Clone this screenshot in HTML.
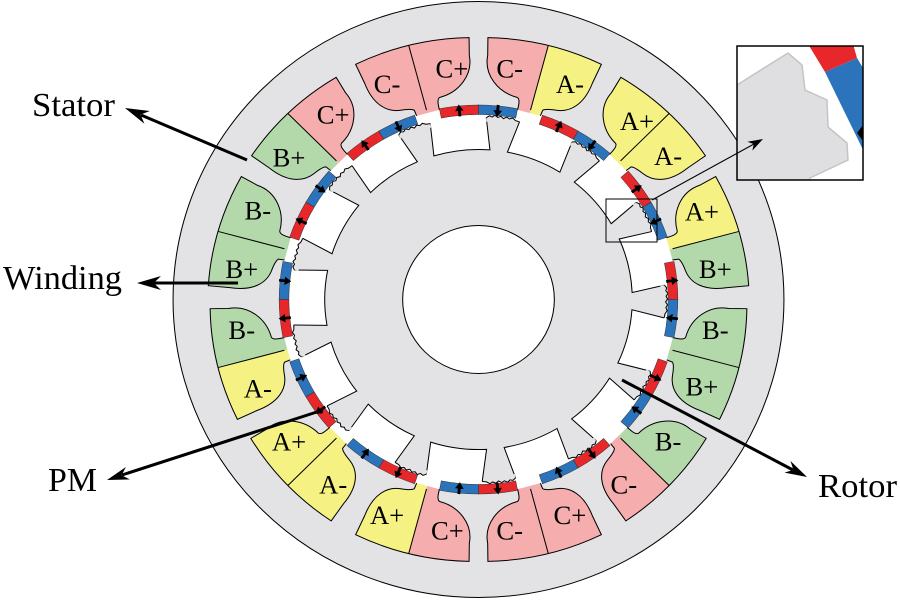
<!DOCTYPE html>
<html><head><meta charset="utf-8"><style>
html,body{margin:0;padding:0;background:#fff;}
svg{display:block;}
.o{fill:none;stroke:#000;stroke-width:1;}
.t{font-family:"Liberation Serif",serif;font-size:26px;text-anchor:middle;fill:#000;}
.L{font-family:"Liberation Serif",serif;font-size:34px;fill:#000;}
</style></head><body>
<svg width="900" height="600" viewBox="0 0 900 600" xmlns="http://www.w3.org/2000/svg">
<defs>
<clipPath id="cl" clipPathUnits="userSpaceOnUse"><rect x="-90" y="-290" width="90" height="110"/></clipPath>
<clipPath id="cr" clipPathUnits="userSpaceOnUse"><rect x="0" y="-290" width="90" height="110"/></clipPath>
<clipPath id="ib"><rect x="737" y="46" width="126" height="134"/></clipPath>
</defs>
<rect width="900" height="600" fill="#fff"/>
<g transform="translate(478.5,299.5) scale(1.025,1)">
<circle r="298" fill="#e3e3e5" stroke="#000" stroke-width="1"/>
<circle r="194.5" fill="#fff"/>

<!-- slots -->
<g transform="rotate(15)"><path d="M-12.2,-193 L-12.5,-198 Q-13,-204.5 -16,-205 C-35,-205 -53,-218 -54.5,-238 L-58.9,-255.3 A263,263 0 0 1 54.9,-258.2 L51.3,-237.5 C49,-215 38,-204 24.5,-202.5 Q14,-201.5 11.5,-199 L10.8,-193" fill="#f5adad" clip-path="url(#cl)"/><path d="M-12.2,-193 L-12.5,-198 Q-13,-204.5 -16,-205 C-35,-205 -53,-218 -54.5,-238 L-58.9,-255.3 A263,263 0 0 1 54.9,-258.2 L51.3,-237.5 C49,-215 38,-204 24.5,-202.5 Q14,-201.5 11.5,-199 L10.8,-193" fill="#f5f283" clip-path="url(#cr)"/><path class="o" d="M-12.2,-193 L-12.5,-198 Q-13,-204.5 -16,-205 C-35,-205 -53,-218 -54.5,-238 L-58.9,-255.3 A263,263 0 0 1 54.9,-258.2 L51.3,-237.5 C49,-215 38,-204 24.5,-202.5 Q14,-201.5 11.5,-199 L10.8,-193"/><path class="o" d="M0,-196 V-263"/></g>

<g transform="rotate(45)"><path d="M-12.2,-193 L-12.5,-198 Q-13,-204.5 -16,-205 C-35,-205 -53,-218 -54.5,-238 L-58.9,-255.3 A263,263 0 0 1 54.9,-258.2 L51.3,-237.5 C49,-215 38,-204 24.5,-202.5 Q14,-201.5 11.5,-199 L10.8,-193" fill="#f5f283"/><path class="o" d="M-12.2,-193 L-12.5,-198 Q-13,-204.5 -16,-205 C-35,-205 -53,-218 -54.5,-238 L-58.9,-255.3 A263,263 0 0 1 54.9,-258.2 L51.3,-237.5 C49,-215 38,-204 24.5,-202.5 Q14,-201.5 11.5,-199 L10.8,-193"/><path class="o" d="M0,-196 V-263"/></g>

<g transform="rotate(75)"><path d="M-12.2,-193 L-12.5,-198 Q-13,-204.5 -16,-205 C-35,-205 -53,-218 -54.5,-238 L-58.9,-255.3 A263,263 0 0 1 54.9,-258.2 L51.3,-237.5 C49,-215 38,-204 24.5,-202.5 Q14,-201.5 11.5,-199 L10.8,-193" fill="#f5f283" clip-path="url(#cl)"/><path d="M-12.2,-193 L-12.5,-198 Q-13,-204.5 -16,-205 C-35,-205 -53,-218 -54.5,-238 L-58.9,-255.3 A263,263 0 0 1 54.9,-258.2 L51.3,-237.5 C49,-215 38,-204 24.5,-202.5 Q14,-201.5 11.5,-199 L10.8,-193" fill="#b3d9aa" clip-path="url(#cr)"/><path class="o" d="M-12.2,-193 L-12.5,-198 Q-13,-204.5 -16,-205 C-35,-205 -53,-218 -54.5,-238 L-58.9,-255.3 A263,263 0 0 1 54.9,-258.2 L51.3,-237.5 C49,-215 38,-204 24.5,-202.5 Q14,-201.5 11.5,-199 L10.8,-193"/><path class="o" d="M0,-196 V-263"/></g>

<g transform="rotate(105)"><path d="M-12.2,-193 L-12.5,-198 Q-13,-204.5 -16,-205 C-35,-205 -53,-218 -54.5,-238 L-58.9,-255.3 A263,263 0 0 1 54.9,-258.2 L51.3,-237.5 C49,-215 38,-204 24.5,-202.5 Q14,-201.5 11.5,-199 L10.8,-193" fill="#b3d9aa"/><path class="o" d="M-12.2,-193 L-12.5,-198 Q-13,-204.5 -16,-205 C-35,-205 -53,-218 -54.5,-238 L-58.9,-255.3 A263,263 0 0 1 54.9,-258.2 L51.3,-237.5 C49,-215 38,-204 24.5,-202.5 Q14,-201.5 11.5,-199 L10.8,-193"/><path class="o" d="M0,-196 V-263"/></g>

<g transform="rotate(135)"><path d="M-12.2,-193 L-12.5,-198 Q-13,-204.5 -16,-205 C-35,-205 -53,-218 -54.5,-238 L-58.9,-255.3 A263,263 0 0 1 54.9,-258.2 L51.3,-237.5 C49,-215 38,-204 24.5,-202.5 Q14,-201.5 11.5,-199 L10.8,-193" fill="#b3d9aa" clip-path="url(#cl)"/><path d="M-12.2,-193 L-12.5,-198 Q-13,-204.5 -16,-205 C-35,-205 -53,-218 -54.5,-238 L-58.9,-255.3 A263,263 0 0 1 54.9,-258.2 L51.3,-237.5 C49,-215 38,-204 24.5,-202.5 Q14,-201.5 11.5,-199 L10.8,-193" fill="#f5adad" clip-path="url(#cr)"/><path class="o" d="M-12.2,-193 L-12.5,-198 Q-13,-204.5 -16,-205 C-35,-205 -53,-218 -54.5,-238 L-58.9,-255.3 A263,263 0 0 1 54.9,-258.2 L51.3,-237.5 C49,-215 38,-204 24.5,-202.5 Q14,-201.5 11.5,-199 L10.8,-193"/><path class="o" d="M0,-196 V-263"/></g>

<g transform="rotate(165) scale(-1,1)"><path d="M-12.2,-193 L-12.5,-198 Q-13,-204.5 -16,-205 C-35,-205 -53,-218 -54.5,-238 L-58.9,-255.3 A263,263 0 0 1 54.9,-258.2 L51.3,-237.5 C49,-215 38,-204 24.5,-202.5 Q14,-201.5 11.5,-199 L10.8,-193" fill="#f5adad"/><path class="o" d="M-12.2,-193 L-12.5,-198 Q-13,-204.5 -16,-205 C-35,-205 -53,-218 -54.5,-238 L-58.9,-255.3 A263,263 0 0 1 54.9,-258.2 L51.3,-237.5 C49,-215 38,-204 24.5,-202.5 Q14,-201.5 11.5,-199 L10.8,-193"/><path class="o" d="M0,-196 V-263"/></g>

<g transform="rotate(195)"><path d="M-12.2,-193 L-12.5,-198 Q-13,-204.5 -16,-205 C-35,-205 -53,-218 -54.5,-238 L-58.9,-255.3 A263,263 0 0 1 54.9,-258.2 L51.3,-237.5 C49,-215 38,-204 24.5,-202.5 Q14,-201.5 11.5,-199 L10.8,-193" fill="#f5adad" clip-path="url(#cl)"/><path d="M-12.2,-193 L-12.5,-198 Q-13,-204.5 -16,-205 C-35,-205 -53,-218 -54.5,-238 L-58.9,-255.3 A263,263 0 0 1 54.9,-258.2 L51.3,-237.5 C49,-215 38,-204 24.5,-202.5 Q14,-201.5 11.5,-199 L10.8,-193" fill="#f5f283" clip-path="url(#cr)"/><path class="o" d="M-12.2,-193 L-12.5,-198 Q-13,-204.5 -16,-205 C-35,-205 -53,-218 -54.5,-238 L-58.9,-255.3 A263,263 0 0 1 54.9,-258.2 L51.3,-237.5 C49,-215 38,-204 24.5,-202.5 Q14,-201.5 11.5,-199 L10.8,-193"/><path class="o" d="M0,-196 V-263"/></g>

<g transform="rotate(225) scale(-1,1)"><path d="M-12.2,-193 L-12.5,-198 Q-13,-204.5 -16,-205 C-35,-205 -53,-218 -54.5,-238 L-58.9,-255.3 A263,263 0 0 1 54.9,-258.2 L51.3,-237.5 C49,-215 38,-204 24.5,-202.5 Q14,-201.5 11.5,-199 L10.8,-193" fill="#f5f283"/><path class="o" d="M-12.2,-193 L-12.5,-198 Q-13,-204.5 -16,-205 C-35,-205 -53,-218 -54.5,-238 L-58.9,-255.3 A263,263 0 0 1 54.9,-258.2 L51.3,-237.5 C49,-215 38,-204 24.5,-202.5 Q14,-201.5 11.5,-199 L10.8,-193"/><path class="o" d="M0,-196 V-263"/></g>

<g transform="rotate(255) scale(-1,1)"><path d="M-12.2,-193 L-12.5,-198 Q-13,-204.5 -16,-205 C-35,-205 -53,-218 -54.5,-238 L-58.9,-255.3 A263,263 0 0 1 54.9,-258.2 L51.3,-237.5 C49,-215 38,-204 24.5,-202.5 Q14,-201.5 11.5,-199 L10.8,-193" fill="#b3d9aa" clip-path="url(#cl)"/><path d="M-12.2,-193 L-12.5,-198 Q-13,-204.5 -16,-205 C-35,-205 -53,-218 -54.5,-238 L-58.9,-255.3 A263,263 0 0 1 54.9,-258.2 L51.3,-237.5 C49,-215 38,-204 24.5,-202.5 Q14,-201.5 11.5,-199 L10.8,-193" fill="#f5f283" clip-path="url(#cr)"/><path class="o" d="M-12.2,-193 L-12.5,-198 Q-13,-204.5 -16,-205 C-35,-205 -53,-218 -54.5,-238 L-58.9,-255.3 A263,263 0 0 1 54.9,-258.2 L51.3,-237.5 C49,-215 38,-204 24.5,-202.5 Q14,-201.5 11.5,-199 L10.8,-193"/><path class="o" d="M0,-196 V-263"/></g>

<g transform="rotate(285) scale(-1,1)"><path d="M-12.2,-193 L-12.5,-198 Q-13,-204.5 -16,-205 C-35,-205 -53,-218 -54.5,-238 L-58.9,-255.3 A263,263 0 0 1 54.9,-258.2 L51.3,-237.5 C49,-215 38,-204 24.5,-202.5 Q14,-201.5 11.5,-199 L10.8,-193" fill="#b3d9aa"/><path class="o" d="M-12.2,-193 L-12.5,-198 Q-13,-204.5 -16,-205 C-35,-205 -53,-218 -54.5,-238 L-58.9,-255.3 A263,263 0 0 1 54.9,-258.2 L51.3,-237.5 C49,-215 38,-204 24.5,-202.5 Q14,-201.5 11.5,-199 L10.8,-193"/><path class="o" d="M0,-196 V-263"/></g>

<g transform="rotate(315) scale(-1,1)"><path d="M-12.2,-193 L-12.5,-198 Q-13,-204.5 -16,-205 C-35,-205 -53,-218 -54.5,-238 L-58.9,-255.3 A263,263 0 0 1 54.9,-258.2 L51.3,-237.5 C49,-215 38,-204 24.5,-202.5 Q14,-201.5 11.5,-199 L10.8,-193" fill="#f5adad" clip-path="url(#cl)"/><path d="M-12.2,-193 L-12.5,-198 Q-13,-204.5 -16,-205 C-35,-205 -53,-218 -54.5,-238 L-58.9,-255.3 A263,263 0 0 1 54.9,-258.2 L51.3,-237.5 C49,-215 38,-204 24.5,-202.5 Q14,-201.5 11.5,-199 L10.8,-193" fill="#b3d9aa" clip-path="url(#cr)"/><path class="o" d="M-12.2,-193 L-12.5,-198 Q-13,-204.5 -16,-205 C-35,-205 -53,-218 -54.5,-238 L-58.9,-255.3 A263,263 0 0 1 54.9,-258.2 L51.3,-237.5 C49,-215 38,-204 24.5,-202.5 Q14,-201.5 11.5,-199 L10.8,-193"/><path class="o" d="M0,-196 V-263"/></g>

<g transform="rotate(345) scale(-1,1)"><path d="M-12.2,-193 L-12.5,-198 Q-13,-204.5 -16,-205 C-35,-205 -53,-218 -54.5,-238 L-58.9,-255.3 A263,263 0 0 1 54.9,-258.2 L51.3,-237.5 C49,-215 38,-204 24.5,-202.5 Q14,-201.5 11.5,-199 L10.8,-193" fill="#f5adad"/><path class="o" d="M-12.2,-193 L-12.5,-198 Q-13,-204.5 -16,-205 C-35,-205 -53,-218 -54.5,-238 L-58.9,-255.3 A263,263 0 0 1 54.9,-258.2 L51.3,-237.5 C49,-215 38,-204 24.5,-202.5 Q14,-201.5 11.5,-199 L10.8,-193"/><path class="o" d="M0,-196 V-263"/></g>

<!-- slot labels -->
<text class="t" x="30.4" y="-222">C-</text>
<text class="t" x="89.2" y="-206.3">A-</text>
<text class="t" x="154.6" y="-169.5">A+</text>
<text class="t" x="184.9" y="-134.5">A-</text>
<text class="t" x="218" y="-79">A+</text>
<text class="t" x="231" y="-21.4">B+</text>
<text class="t" x="231" y="39.4">B-</text>
<text class="t" x="218" y="96">B+</text>
<text class="t" x="184.9" y="150.8">B-</text>
<text class="t" x="141.8" y="193.9">C-</text>
<text class="t" x="89.2" y="224.3">C+</text>
<text class="t" x="30.4" y="240">C-</text>
<text class="t" x="-30.4" y="240">C+</text>
<text class="t" x="-89.2" y="224.3">A+</text>
<text class="t" x="-141.8" y="193.9">A-</text>
<text class="t" x="-184.9" y="150.8">A+</text>
<text class="t" x="-215.3" y="98.2">A-</text>
<text class="t" x="-231" y="39.4">B-</text>
<text class="t" x="-231" y="-21.4">B+</text>
<text class="t" x="-215.3" y="-80.2">B-</text>
<text class="t" x="-184.9" y="-132.8">B+</text>
<text class="t" x="-141.8" y="-175.9">C+</text>
<text class="t" x="-89.2" y="-206.3">C-</text>
<text class="t" x="-26" y="-222">C+</text>

<!-- rotor -->
<circle r="180" fill="#e3e3e5"/>
<g>
<g transform="rotate(-6.3)"><path d="M-27.5,-180 L-27.5,-147.5 A150,150 0 0 1 27.5,-147.5 L27.5,-180" fill="#fff" stroke="#000" stroke-width="1"/><path d="M27.5,-179.9 L30.7,-181.4 L33.3,-179.9 L36.2,-181.4 L38.7,-178.9 L41.8,-179.7 L44.1,-177.1 L47.4,-178.3 L49.8,-176.1 L53,-176.7 L55.5,-173.9 L59.3,-172.1 L58,-168.3 L26.9,-176 Z" fill="#e3e3e5"/><path class="o" stroke-width="0.8" d="M27.5,-179.9 L30.7,-181.4 L33.3,-179.9 L36.2,-181.4 L38.7,-178.9 L41.8,-179.7 L44.1,-177.1 L47.4,-178.3 L49.8,-176.1 L53,-176.7 L55.5,-173.9 L59.3,-172.1"/></g>
<g transform="rotate(21.39)"><path d="M-27.5,-180 L-27.5,-147.5 A150,150 0 0 1 27.5,-147.5 L27.5,-180" fill="#fff" stroke="#000" stroke-width="1"/><path d="M27.5,-179.9 L30.7,-181.4 L33.3,-179.9 L36.2,-181.4 L38.7,-178.9 L41.8,-179.7 L44.1,-177.1 L47.4,-178.3 L49.8,-176.1 L53,-176.7 L55.5,-173.9 L59.3,-172.1 L58,-168.3 L26.9,-176 Z" fill="#e3e3e5"/><path class="o" stroke-width="0.8" d="M27.5,-179.9 L30.7,-181.4 L33.3,-179.9 L36.2,-181.4 L38.7,-178.9 L41.8,-179.7 L44.1,-177.1 L47.4,-178.3 L49.8,-176.1 L53,-176.7 L55.5,-173.9 L59.3,-172.1"/></g>
<g transform="rotate(49.08)"><path d="M-27.5,-180 L-27.5,-147.5 A150,150 0 0 1 27.5,-147.5 L27.5,-180" fill="#fff" stroke="#000" stroke-width="1"/><path d="M27.5,-179.9 L30.7,-181.4 L33.3,-179.9 L36.2,-181.4 L38.7,-178.9 L41.8,-179.7 L44.1,-177.1 L47.4,-178.3 L49.8,-176.1 L53,-176.7 L55.5,-173.9 L59.3,-172.1 L58,-168.3 L26.9,-176 Z" fill="#e3e3e5"/><path class="o" stroke-width="0.8" d="M27.5,-179.9 L30.7,-181.4 L33.3,-179.9 L36.2,-181.4 L38.7,-178.9 L41.8,-179.7 L44.1,-177.1 L47.4,-178.3 L49.8,-176.1 L53,-176.7 L55.5,-173.9 L59.3,-172.1"/></g>
<g transform="rotate(76.78)"><path d="M-27.5,-180 L-27.5,-147.5 A150,150 0 0 1 27.5,-147.5 L27.5,-180" fill="#fff" stroke="#000" stroke-width="1"/><path d="M27.5,-179.9 L30.7,-181.4 L33.3,-179.9 L36.2,-181.4 L38.7,-178.9 L41.8,-179.7 L44.1,-177.1 L47.4,-178.3 L49.8,-176.1 L53,-176.7 L55.5,-173.9 L59.3,-172.1 L58,-168.3 L26.9,-176 Z" fill="#e3e3e5"/><path class="o" stroke-width="0.8" d="M27.5,-179.9 L30.7,-181.4 L33.3,-179.9 L36.2,-181.4 L38.7,-178.9 L41.8,-179.7 L44.1,-177.1 L47.4,-178.3 L49.8,-176.1 L53,-176.7 L55.5,-173.9 L59.3,-172.1"/></g>
<g transform="rotate(104.47)"><path d="M-27.5,-180 L-27.5,-147.5 A150,150 0 0 1 27.5,-147.5 L27.5,-180" fill="#fff" stroke="#000" stroke-width="1"/><path d="M27.5,-179.9 L30.7,-181.4 L33.3,-179.9 L36.2,-181.4 L38.7,-178.9 L41.8,-179.7 L44.1,-177.1 L47.4,-178.3 L49.8,-176.1 L53,-176.7 L55.5,-173.9 L59.3,-172.1 L58,-168.3 L26.9,-176 Z" fill="#e3e3e5"/><path class="o" stroke-width="0.8" d="M27.5,-179.9 L30.7,-181.4 L33.3,-179.9 L36.2,-181.4 L38.7,-178.9 L41.8,-179.7 L44.1,-177.1 L47.4,-178.3 L49.8,-176.1 L53,-176.7 L55.5,-173.9 L59.3,-172.1"/></g>
<g transform="rotate(132.16)"><path d="M-27.5,-180 L-27.5,-147.5 A150,150 0 0 1 27.5,-147.5 L27.5,-180" fill="#fff" stroke="#000" stroke-width="1"/><path d="M27.5,-179.9 L30.7,-181.4 L33.3,-179.9 L36.2,-181.4 L38.7,-178.9 L41.8,-179.7 L44.1,-177.1 L47.4,-178.3 L49.8,-176.1 L53,-176.7 L55.5,-173.9 L59.3,-172.1 L58,-168.3 L26.9,-176 Z" fill="#e3e3e5"/><path class="o" stroke-width="0.8" d="M27.5,-179.9 L30.7,-181.4 L33.3,-179.9 L36.2,-181.4 L38.7,-178.9 L41.8,-179.7 L44.1,-177.1 L47.4,-178.3 L49.8,-176.1 L53,-176.7 L55.5,-173.9 L59.3,-172.1"/></g>
<g transform="rotate(159.85)"><path d="M-27.5,-180 L-27.5,-147.5 A150,150 0 0 1 27.5,-147.5 L27.5,-180" fill="#fff" stroke="#000" stroke-width="1"/><path d="M27.5,-179.9 L30.7,-181.4 L33.3,-179.9 L36.2,-181.4 L38.7,-178.9 L41.8,-179.7 L44.1,-177.1 L47.4,-178.3 L49.8,-176.1 L53,-176.7 L55.5,-173.9 L59.3,-172.1 L58,-168.3 L26.9,-176 Z" fill="#e3e3e5"/><path class="o" stroke-width="0.8" d="M27.5,-179.9 L30.7,-181.4 L33.3,-179.9 L36.2,-181.4 L38.7,-178.9 L41.8,-179.7 L44.1,-177.1 L47.4,-178.3 L49.8,-176.1 L53,-176.7 L55.5,-173.9 L59.3,-172.1"/></g>
<g transform="rotate(187.55)"><path d="M-27.5,-180 L-27.5,-147.5 A150,150 0 0 1 27.5,-147.5 L27.5,-180" fill="#fff" stroke="#000" stroke-width="1"/><path d="M27.5,-179.9 L30.7,-181.4 L33.3,-179.9 L36.2,-181.4 L38.7,-178.9 L41.8,-179.7 L44.1,-177.1 L47.4,-178.3 L49.8,-176.1 L53,-176.7 L55.5,-173.9 L59.3,-172.1 L58,-168.3 L26.9,-176 Z" fill="#e3e3e5"/><path class="o" stroke-width="0.8" d="M27.5,-179.9 L30.7,-181.4 L33.3,-179.9 L36.2,-181.4 L38.7,-178.9 L41.8,-179.7 L44.1,-177.1 L47.4,-178.3 L49.8,-176.1 L53,-176.7 L55.5,-173.9 L59.3,-172.1"/></g>
<g transform="rotate(215.24)"><path d="M-27.5,-180 L-27.5,-147.5 A150,150 0 0 1 27.5,-147.5 L27.5,-180" fill="#fff" stroke="#000" stroke-width="1"/><path d="M27.5,-179.9 L30.7,-181.4 L33.3,-179.9 L36.2,-181.4 L38.7,-178.9 L41.8,-179.7 L44.1,-177.1 L47.4,-178.3 L49.8,-176.1 L53,-176.7 L55.5,-173.9 L59.3,-172.1 L58,-168.3 L26.9,-176 Z" fill="#e3e3e5"/><path class="o" stroke-width="0.8" d="M27.5,-179.9 L30.7,-181.4 L33.3,-179.9 L36.2,-181.4 L38.7,-178.9 L41.8,-179.7 L44.1,-177.1 L47.4,-178.3 L49.8,-176.1 L53,-176.7 L55.5,-173.9 L59.3,-172.1"/></g>
<g transform="rotate(242.93)"><path d="M-27.5,-180 L-27.5,-147.5 A150,150 0 0 1 27.5,-147.5 L27.5,-180" fill="#fff" stroke="#000" stroke-width="1"/><path d="M27.5,-179.9 L30.7,-181.4 L33.3,-179.9 L36.2,-181.4 L38.7,-178.9 L41.8,-179.7 L44.1,-177.1 L47.4,-178.3 L49.8,-176.1 L53,-176.7 L55.5,-173.9 L59.3,-172.1 L58,-168.3 L26.9,-176 Z" fill="#e3e3e5"/><path class="o" stroke-width="0.8" d="M27.5,-179.9 L30.7,-181.4 L33.3,-179.9 L36.2,-181.4 L38.7,-178.9 L41.8,-179.7 L44.1,-177.1 L47.4,-178.3 L49.8,-176.1 L53,-176.7 L55.5,-173.9 L59.3,-172.1"/></g>
<g transform="rotate(270.62)"><path d="M-27.5,-180 L-27.5,-147.5 A150,150 0 0 1 27.5,-147.5 L27.5,-180" fill="#fff" stroke="#000" stroke-width="1"/><path d="M27.5,-179.9 L30.7,-181.4 L33.3,-179.9 L36.2,-181.4 L38.7,-178.9 L41.8,-179.7 L44.1,-177.1 L47.4,-178.3 L49.8,-176.1 L53,-176.7 L55.5,-173.9 L59.3,-172.1 L58,-168.3 L26.9,-176 Z" fill="#e3e3e5"/><path class="o" stroke-width="0.8" d="M27.5,-179.9 L30.7,-181.4 L33.3,-179.9 L36.2,-181.4 L38.7,-178.9 L41.8,-179.7 L44.1,-177.1 L47.4,-178.3 L49.8,-176.1 L53,-176.7 L55.5,-173.9 L59.3,-172.1"/></g>
<g transform="rotate(298.32)"><path d="M-27.5,-180 L-27.5,-147.5 A150,150 0 0 1 27.5,-147.5 L27.5,-180" fill="#fff" stroke="#000" stroke-width="1"/><path d="M27.5,-179.9 L30.7,-181.4 L33.3,-179.9 L36.2,-181.4 L38.7,-178.9 L41.8,-179.7 L44.1,-177.1 L47.4,-178.3 L49.8,-176.1 L53,-176.7 L55.5,-173.9 L59.3,-172.1 L58,-168.3 L26.9,-176 Z" fill="#e3e3e5"/><path class="o" stroke-width="0.8" d="M27.5,-179.9 L30.7,-181.4 L33.3,-179.9 L36.2,-181.4 L38.7,-178.9 L41.8,-179.7 L44.1,-177.1 L47.4,-178.3 L49.8,-176.1 L53,-176.7 L55.5,-173.9 L59.3,-172.1"/></g>
<g transform="rotate(326.01)"><path d="M-27.5,-180 L-27.5,-147.5 A150,150 0 0 1 27.5,-147.5 L27.5,-180" fill="#fff" stroke="#000" stroke-width="1"/><path d="M27.5,-179.9 L30.7,-181.4 L33.3,-179.9 L36.2,-181.4 L38.7,-178.9 L41.8,-179.7 L44.1,-177.1 L47.4,-178.3 L49.8,-176.1 L53,-176.7 L55.5,-173.9 L59.3,-172.1 L58,-168.3 L26.9,-176 Z" fill="#e3e3e5"/><path class="o" stroke-width="0.8" d="M27.5,-179.9 L30.7,-181.4 L33.3,-179.9 L36.2,-181.4 L38.7,-178.9 L41.8,-179.7 L44.1,-177.1 L47.4,-178.3 L49.8,-176.1 L53,-176.7 L55.5,-173.9 L59.3,-172.1"/></g>
</g>
<circle r="74" fill="#fff" stroke="#000" stroke-width="1"/>

<!-- PMs -->
<g transform="rotate(0)"><path d="M-38.1,-190.7 A194.5,194.5 0 0 1 0,-194.5 L0,-185 A185,185 0 0 0 -36.3,-181.4 Z" fill="#e8272a" stroke="#333" stroke-width="0.5"/><path d="M0,-194.5 A194.5,194.5 0 0 1 38.1,-190.7 L36.3,-181.4 A185,185 0 0 0 0,-185 Z" fill="#2b73bb" stroke="#333" stroke-width="0.5"/><path transform="rotate(-5.65)" d="M0,-196 L-4.2,-189.5 L-1.4,-189.5 L-1.4,-184 L1.4,-184 L1.4,-189.5 L4.2,-189.5 Z"/><path transform="rotate(5.65)" d="M0,-183.5 L-4.2,-190 L-1.4,-190 L-1.4,-195.5 L1.4,-195.5 L1.4,-190 L4.2,-190 Z"/></g>
<g transform="rotate(30)"><path d="M-38.1,-190.7 A194.5,194.5 0 0 1 0,-194.5 L0,-185 A185,185 0 0 0 -36.3,-181.4 Z" fill="#e8272a" stroke="#333" stroke-width="0.5"/><path d="M0,-194.5 A194.5,194.5 0 0 1 38.1,-190.7 L36.3,-181.4 A185,185 0 0 0 0,-185 Z" fill="#2b73bb" stroke="#333" stroke-width="0.5"/><path transform="rotate(-5.65)" d="M0,-196 L-4.2,-189.5 L-1.4,-189.5 L-1.4,-184 L1.4,-184 L1.4,-189.5 L4.2,-189.5 Z"/><path transform="rotate(5.65)" d="M0,-183.5 L-4.2,-190 L-1.4,-190 L-1.4,-195.5 L1.4,-195.5 L1.4,-190 L4.2,-190 Z"/></g>
<g transform="rotate(60)"><path d="M-38.1,-190.7 A194.5,194.5 0 0 1 0,-194.5 L0,-185 A185,185 0 0 0 -36.3,-181.4 Z" fill="#e8272a" stroke="#333" stroke-width="0.5"/><path d="M0,-194.5 A194.5,194.5 0 0 1 38.1,-190.7 L36.3,-181.4 A185,185 0 0 0 0,-185 Z" fill="#2b73bb" stroke="#333" stroke-width="0.5"/><path transform="rotate(-5.65)" d="M0,-196 L-4.2,-189.5 L-1.4,-189.5 L-1.4,-184 L1.4,-184 L1.4,-189.5 L4.2,-189.5 Z"/><path transform="rotate(5.65)" d="M0,-183.5 L-4.2,-190 L-1.4,-190 L-1.4,-195.5 L1.4,-195.5 L1.4,-190 L4.2,-190 Z"/></g>
<g transform="rotate(90)"><path d="M-38.1,-190.7 A194.5,194.5 0 0 1 0,-194.5 L0,-185 A185,185 0 0 0 -36.3,-181.4 Z" fill="#e8272a" stroke="#333" stroke-width="0.5"/><path d="M0,-194.5 A194.5,194.5 0 0 1 38.1,-190.7 L36.3,-181.4 A185,185 0 0 0 0,-185 Z" fill="#2b73bb" stroke="#333" stroke-width="0.5"/><path transform="rotate(-5.65)" d="M0,-196 L-4.2,-189.5 L-1.4,-189.5 L-1.4,-184 L1.4,-184 L1.4,-189.5 L4.2,-189.5 Z"/><path transform="rotate(5.65)" d="M0,-183.5 L-4.2,-190 L-1.4,-190 L-1.4,-195.5 L1.4,-195.5 L1.4,-190 L4.2,-190 Z"/></g>
<g transform="rotate(120)"><path d="M-38.1,-190.7 A194.5,194.5 0 0 1 0,-194.5 L0,-185 A185,185 0 0 0 -36.3,-181.4 Z" fill="#e8272a" stroke="#333" stroke-width="0.5"/><path d="M0,-194.5 A194.5,194.5 0 0 1 38.1,-190.7 L36.3,-181.4 A185,185 0 0 0 0,-185 Z" fill="#2b73bb" stroke="#333" stroke-width="0.5"/><path transform="rotate(-5.65)" d="M0,-196 L-4.2,-189.5 L-1.4,-189.5 L-1.4,-184 L1.4,-184 L1.4,-189.5 L4.2,-189.5 Z"/><path transform="rotate(5.65)" d="M0,-183.5 L-4.2,-190 L-1.4,-190 L-1.4,-195.5 L1.4,-195.5 L1.4,-190 L4.2,-190 Z"/></g>
<g transform="rotate(150)"><path d="M-38.1,-190.7 A194.5,194.5 0 0 1 0,-194.5 L0,-185 A185,185 0 0 0 -36.3,-181.4 Z" fill="#e8272a" stroke="#333" stroke-width="0.5"/><path d="M0,-194.5 A194.5,194.5 0 0 1 38.1,-190.7 L36.3,-181.4 A185,185 0 0 0 0,-185 Z" fill="#2b73bb" stroke="#333" stroke-width="0.5"/><path transform="rotate(-5.65)" d="M0,-196 L-4.2,-189.5 L-1.4,-189.5 L-1.4,-184 L1.4,-184 L1.4,-189.5 L4.2,-189.5 Z"/><path transform="rotate(5.65)" d="M0,-183.5 L-4.2,-190 L-1.4,-190 L-1.4,-195.5 L1.4,-195.5 L1.4,-190 L4.2,-190 Z"/></g>
<g transform="rotate(180)"><path d="M-38.1,-190.7 A194.5,194.5 0 0 1 0,-194.5 L0,-185 A185,185 0 0 0 -36.3,-181.4 Z" fill="#e8272a" stroke="#333" stroke-width="0.5"/><path d="M0,-194.5 A194.5,194.5 0 0 1 38.1,-190.7 L36.3,-181.4 A185,185 0 0 0 0,-185 Z" fill="#2b73bb" stroke="#333" stroke-width="0.5"/><path transform="rotate(-5.65)" d="M0,-196 L-4.2,-189.5 L-1.4,-189.5 L-1.4,-184 L1.4,-184 L1.4,-189.5 L4.2,-189.5 Z"/><path transform="rotate(5.65)" d="M0,-183.5 L-4.2,-190 L-1.4,-190 L-1.4,-195.5 L1.4,-195.5 L1.4,-190 L4.2,-190 Z"/></g>
<g transform="rotate(210)"><path d="M-38.1,-190.7 A194.5,194.5 0 0 1 0,-194.5 L0,-185 A185,185 0 0 0 -36.3,-181.4 Z" fill="#e8272a" stroke="#333" stroke-width="0.5"/><path d="M0,-194.5 A194.5,194.5 0 0 1 38.1,-190.7 L36.3,-181.4 A185,185 0 0 0 0,-185 Z" fill="#2b73bb" stroke="#333" stroke-width="0.5"/><path transform="rotate(-5.65)" d="M0,-196 L-4.2,-189.5 L-1.4,-189.5 L-1.4,-184 L1.4,-184 L1.4,-189.5 L4.2,-189.5 Z"/><path transform="rotate(5.65)" d="M0,-183.5 L-4.2,-190 L-1.4,-190 L-1.4,-195.5 L1.4,-195.5 L1.4,-190 L4.2,-190 Z"/></g>
<g transform="rotate(240)"><path d="M-38.1,-190.7 A194.5,194.5 0 0 1 0,-194.5 L0,-185 A185,185 0 0 0 -36.3,-181.4 Z" fill="#e8272a" stroke="#333" stroke-width="0.5"/><path d="M0,-194.5 A194.5,194.5 0 0 1 38.1,-190.7 L36.3,-181.4 A185,185 0 0 0 0,-185 Z" fill="#2b73bb" stroke="#333" stroke-width="0.5"/><path transform="rotate(-5.65)" d="M0,-196 L-4.2,-189.5 L-1.4,-189.5 L-1.4,-184 L1.4,-184 L1.4,-189.5 L4.2,-189.5 Z"/><path transform="rotate(5.65)" d="M0,-183.5 L-4.2,-190 L-1.4,-190 L-1.4,-195.5 L1.4,-195.5 L1.4,-190 L4.2,-190 Z"/></g>
<g transform="rotate(270)"><path d="M-38.1,-190.7 A194.5,194.5 0 0 1 0,-194.5 L0,-185 A185,185 0 0 0 -36.3,-181.4 Z" fill="#e8272a" stroke="#333" stroke-width="0.5"/><path d="M0,-194.5 A194.5,194.5 0 0 1 38.1,-190.7 L36.3,-181.4 A185,185 0 0 0 0,-185 Z" fill="#2b73bb" stroke="#333" stroke-width="0.5"/><path transform="rotate(-5.65)" d="M0,-196 L-4.2,-189.5 L-1.4,-189.5 L-1.4,-184 L1.4,-184 L1.4,-189.5 L4.2,-189.5 Z"/><path transform="rotate(5.65)" d="M0,-183.5 L-4.2,-190 L-1.4,-190 L-1.4,-195.5 L1.4,-195.5 L1.4,-190 L4.2,-190 Z"/></g>
<g transform="rotate(300)"><path d="M-38.1,-190.7 A194.5,194.5 0 0 1 0,-194.5 L0,-185 A185,185 0 0 0 -36.3,-181.4 Z" fill="#e8272a" stroke="#333" stroke-width="0.5"/><path d="M0,-194.5 A194.5,194.5 0 0 1 38.1,-190.7 L36.3,-181.4 A185,185 0 0 0 0,-185 Z" fill="#2b73bb" stroke="#333" stroke-width="0.5"/><path transform="rotate(-5.65)" d="M0,-196 L-4.2,-189.5 L-1.4,-189.5 L-1.4,-184 L1.4,-184 L1.4,-189.5 L4.2,-189.5 Z"/><path transform="rotate(5.65)" d="M0,-183.5 L-4.2,-190 L-1.4,-190 L-1.4,-195.5 L1.4,-195.5 L1.4,-190 L4.2,-190 Z"/></g>
<g transform="rotate(330)"><path d="M-38.1,-190.7 A194.5,194.5 0 0 1 0,-194.5 L0,-185 A185,185 0 0 0 -36.3,-181.4 Z" fill="#e8272a" stroke="#333" stroke-width="0.5"/><path d="M0,-194.5 A194.5,194.5 0 0 1 38.1,-190.7 L36.3,-181.4 A185,185 0 0 0 0,-185 Z" fill="#2b73bb" stroke="#333" stroke-width="0.5"/><path transform="rotate(-5.65)" d="M0,-196 L-4.2,-189.5 L-1.4,-189.5 L-1.4,-184 L1.4,-184 L1.4,-189.5 L4.2,-189.5 Z"/><path transform="rotate(5.65)" d="M0,-183.5 L-4.2,-190 L-1.4,-190 L-1.4,-195.5 L1.4,-195.5 L1.4,-190 L4.2,-190 Z"/></g>
</g>

<!-- small box -->
<rect x="606" y="199" width="51" height="43" fill="none" stroke="#000" stroke-width="1"/>

<!-- inset -->
<rect x="737" y="46" width="126" height="134" fill="#fff"/>
<g clip-path="url(#ib)">
<polygon points="737,85 788,53 802,65 805,90 827,100 828,127 847,143 848,160 810,178 808,184 737,184" fill="#dfdfe1" stroke="#c4c4c4" stroke-width="1.5"/>
<polygon points="808,44 853,44 857,58 825,72" fill="#e8272a"/>
<polygon points="825,72 857,58 868,76 868,160" fill="#2b73bb"/>
<polygon points="857,133 866,121 866,145" fill="#000"/>
</g>
<rect x="737" y="46" width="126" height="134" fill="none" stroke="#000" stroke-width="1.5"/>

<!-- inset arrow -->
<line x1="652" y1="200" x2="754" y2="144" stroke="#000" stroke-width="1"/>
<polygon points="763,139 752.3,150.6 753.8,144.1 747.5,141.8" fill="#000"/>

<!-- label arrows -->
<line x1="247" y1="160" x2="141" y2="115" stroke="#000" stroke-width="3"/>
<polygon points="125,108 149.8,111 140.5,114.6 144.4,123.8" fill="#000"/>

<line x1="238" y1="283" x2="153" y2="283" stroke="#000" stroke-width="3"/>
<polygon points="137,283 161,276 153.8,283 161,290" fill="#000"/>

<line x1="323" y1="410" x2="122" y2="475" stroke="#000" stroke-width="3"/>
<polygon points="107,480 125.9,467 121.6,475.3 129.9,479.4" fill="#000"/>

<line x1="622" y1="380" x2="793" y2="470" stroke="#000" stroke-width="3"/>
<polygon points="807,477 784.5,472.6 793.4,469.9 790.5,461" fill="#000"/>

<!-- labels -->
<text class="L" x="32" y="116" textLength="83" lengthAdjust="spacingAndGlyphs">Stator</text>
<text class="L" x="3" y="289" textLength="119" lengthAdjust="spacingAndGlyphs">Winding</text>
<text class="L" x="48" y="491" textLength="49" lengthAdjust="spacingAndGlyphs">PM</text>
<text class="L" x="818" y="497" textLength="79" lengthAdjust="spacingAndGlyphs">Rotor</text>
</svg>
</body></html>
